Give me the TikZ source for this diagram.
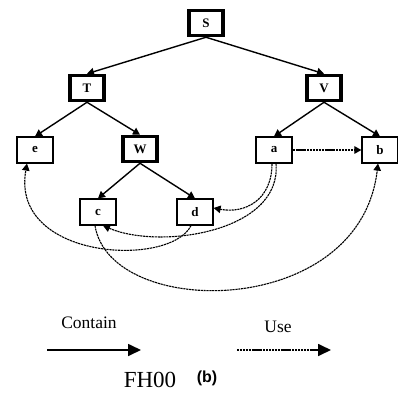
\documentclass[tikz,border=0pt]{standalone}
\usepackage{fontspec}
\setmainfont{Liberation Serif}
\newfontfamily\sansb{Liberation Sans}
\usetikzlibrary{arrows.meta}
\begin{document}
\begin{tikzpicture}[x=1pt,y=-1pt,
  thickbox/.style={draw,line width=3.5pt,minimum width=34pt,minimum height=25pt,inner sep=0pt,font=\fontsize{13}{13}\selectfont\bfseries},
  thinbox/.style={draw,line width=1.2pt,minimum width=36pt,minimum height=26pt,inner sep=0pt,font=\fontsize{13}{13}\selectfont\bfseries},
  contain/.style={line width=1.4pt,-{Triangle[length=7pt,width=7.5pt]}},
  use/.style={line width=1.1pt,dash pattern=on 2.2pt off 0.7pt,-{Triangle[length=7pt,width=7.5pt]}},
  legc/.style={line width=1.7pt,-{Triangle[length=13pt,width=12pt]}},
  legu/.style={line width=1.7pt,dash pattern=on 2.2pt off 0.7pt,-{Triangle[length=13pt,width=12pt]}}]
\useasboundingbox (0,0) rectangle (398,393);
\node[thickbox] (S) at (206,23) {S};
\node[thickbox] (T) at (87,88) {T};
\node[thickbox] (V) at (324,88) {V};
\node[thinbox] (e) at (35,150) {e};
\node[thickbox] (W) at (140,149) {W};
\node[thinbox] (a) at (274,150) {a};
\node[thinbox] (b) at (380,150) {b};
\node[thinbox] (c) at (98,212) {c};
\node[thinbox] (d) at (195,212) {d};
% contain edges
\draw[contain] (S.south) -- (T.north);
\draw[contain] (S.south) -- (V.north);
\draw[contain] (T.south) -- (e.north);
\draw[contain] (T.south) -- (W.north);
\draw[contain] (V.south) -- (a.north);
\draw[contain] (V.south) -- (b.north);
\draw[contain] (W.south) -- (c.north);
\draw[contain] (W.south) -- (d.north);
% use edges
\draw[use] (a.east) -- (b.west);
\draw[use] ([xshift=-2pt]a.south) .. controls (272,200) and (245,214) .. ([yshift=4pt]d.east);
\draw[use] ([xshift=2pt]a.south) .. controls (282,232) and (160,250) .. ([xshift=5pt]c.south);
\draw[use] ([xshift=-4pt]d.south) .. controls (170,268) and (10,260) .. ([xshift=-8pt]e.south);
\draw[use] ([xshift=-3pt]c.south) .. controls (110,320) and (360,320) .. ([xshift=-2pt]b.south);
% legend
\node[font=\fontsize{17.5}{17.5}\selectfont] (lc) at (89,323) {Contain};
\node[font=\fontsize{17.5}{17.5}\selectfont] (lu) at (278,327) {Use};
\coordinate (c1) at (47,350);
\coordinate (c2) at (141,350);
\coordinate (u1) at (237,350);
\coordinate (u2) at (331,350);
\draw[legc] (c1) -- (c2);
\draw[legu] (u1) -- (u2);
\node[font=\fontsize{23}{23}\selectfont] (fh) at (150,380) {FH00};
\node[font=\sansb\bfseries\fontsize{16}{16}\selectfont] (bl) at (207,378) {(b)};
\end{tikzpicture}
\end{document}
